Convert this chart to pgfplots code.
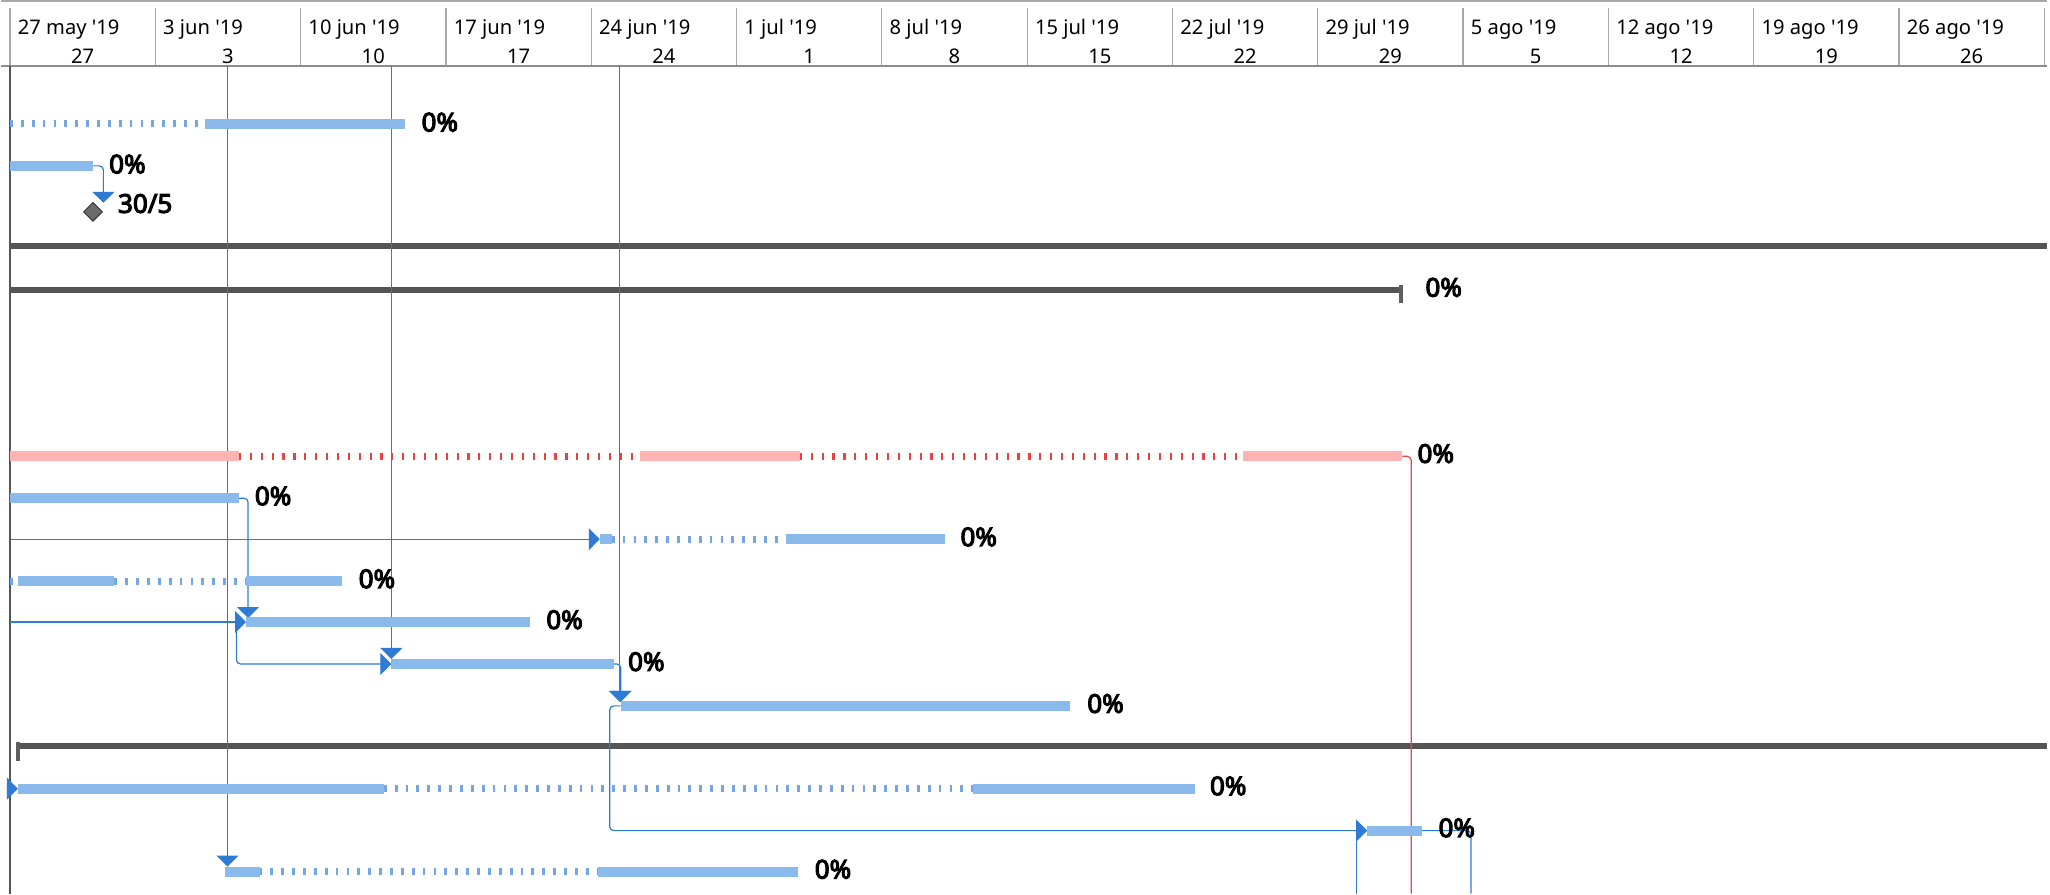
\documentclass[border=0pt]{standalone}
\usepackage{pgfplots}
\pgfplotsset{compat=1.18}
\usepackage{fontspec}
\setmainfont{Noto Sans}
\newfontfamily\pctfont{Noto Sans}[FakeBold=4.2]
\usetikzlibrary{arrows.meta}
\definecolor{barblue}{HTML}{8ABAEB}
\definecolor{dashblue}{HTML}{74A6E3}
\definecolor{linkblue}{HTML}{2E7BD6}
\definecolor{barred}{HTML}{FFB3B3}
\definecolor{dashred}{HTML}{EE3E3E}
\definecolor{linkred}{HTML}{E5484D}
\definecolor{summ}{HTML}{555555}
\definecolor{brk}{HTML}{5E5E5E}
\definecolor{msfill}{HTML}{6B6B6B}
\definecolor{msdraw}{HTML}{333333}
\definecolor{hgrid}{HTML}{A8A8A8}
\definecolor{hline}{HTML}{8C8C8C}
\tikzset{
  bar/.style={line width=5pt, color=barblue},
  split/.style={line width=3.5pt, color=dashblue, dash pattern=on 1.4pt off 4.05pt},
  rbar/.style={line width=5pt, color=barred},
  rsplit/.style={line width=3.5pt, color=dashred, dash pattern=on 1.1pt off 4.35pt},
  summary/.style={line width=3pt, color=summ},
  link/.style={line width=0.6pt, color=linkblue, rounded corners=2pt},
  alink/.style={link, -{Triangle[width=11pt,length=5.5pt]}},
  pct/.style={anchor=base west, inner sep=0pt, font=\pctfont\fontsize{13pt}{14pt}\selectfont},
  hdtop/.style={anchor=base west, inner sep=0pt, font=\fontsize{10.1pt}{12pt}\selectfont},
  hdbot/.style={anchor=base, inner sep=0pt, font=\fontsize{10.1pt}{12pt}\selectfont},
}
\begin{document}
\begin{tikzpicture}
\begin{axis}[
  width=1025pt, height=447.5pt, scale only axis,
  xmin=-0.433, xmax=98.13, ymin=0, ymax=895, y dir=reverse,
  axis line style={draw=none}, ticks=none, clip=false,
]
% ---------- header ----------
\addplot[hgrid, line width=0.8pt] coordinates {(-0.433,0.6) (98.13,0.6)};
\addplot[hline, line width=1pt] coordinates {(-0.433,65.5) (98.13,65.5)};
\pgfplotsinvokeforeach{7,14,21,28,35,42,49,56,63,70,77,84,91,98}{
  \addplot[hgrid, line width=0.6pt] coordinates {(#1,8) (#1,65)};
}
\addplot[hgrid, line width=0.8pt] coordinates {(0,8) (0,65)};
\node[hdtop] at (axis cs:0.36,34.5) {27 may \textquotesingle19};
\node[hdtop] at (axis cs:7.36,34.5) {3 jun \textquotesingle19};
\node[hdtop] at (axis cs:14.36,34.5) {10 jun \textquotesingle19};
\node[hdtop] at (axis cs:21.36,34.5) {17 jun \textquotesingle19};
\node[hdtop] at (axis cs:28.36,34.5) {24 jun \textquotesingle19};
\node[hdtop] at (axis cs:35.36,34.5) {1 jul \textquotesingle19};
\node[hdtop] at (axis cs:42.36,34.5) {8 jul \textquotesingle19};
\node[hdtop] at (axis cs:49.36,34.5) {15 jul \textquotesingle19};
\node[hdtop] at (axis cs:56.36,34.5) {22 jul \textquotesingle19};
\node[hdtop] at (axis cs:63.36,34.5) {29 jul \textquotesingle19};
\node[hdtop] at (axis cs:70.36,34.5) {5 ago \textquotesingle19};
\node[hdtop] at (axis cs:77.36,34.5) {12 ago \textquotesingle19};
\node[hdtop] at (axis cs:84.36,34.5) {19 ago \textquotesingle19};
\node[hdtop] at (axis cs:91.36,34.5) {26 ago \textquotesingle19};
\node[hdbot] at (axis cs:3.5,63) {27};
\node[hdbot] at (axis cs:10.5,63) {3};
\node[hdbot] at (axis cs:17.5,63) {10};
\node[hdbot] at (axis cs:24.5,63) {17};
\node[hdbot] at (axis cs:31.5,63) {24};
\node[hdbot] at (axis cs:38.5,63) {1};
\node[hdbot] at (axis cs:45.5,63) {8};
\node[hdbot] at (axis cs:52.5,63) {15};
\node[hdbot] at (axis cs:59.5,63) {22};
\node[hdbot] at (axis cs:66.5,63) {29};
\node[hdbot] at (axis cs:73.5,63) {5};
\node[hdbot] at (axis cs:80.5,63) {12};
\node[hdbot] at (axis cs:87.5,63) {19};
\node[hdbot] at (axis cs:94.5,63) {26};
% left border of body
\addplot[summ, line width=1pt] coordinates {(0,66) (0,895)};
% ---------- summaries ----------
\addplot[summary] coordinates {(0,246) (98.13,246)};
\addplot[summary] coordinates {(0,290) (67.02,290)};
\addplot[line width=2.2pt, color=brk] coordinates {(67.02,285) (67.02,303)};
\addplot[summary] coordinates {(0.38,747) (98.13,747)};
\addplot[line width=2.2pt, color=brk] coordinates {(0.38,743) (0.38,762)};
% ---------- links (drawn under bars) ----------
\addplot[alink] coordinates {(10.48,66) (10.48,868)};
\addplot[alink] coordinates {(18.37,66) (18.37,660)};
\addplot[alink] coordinates {(29.38,66) (29.38,703)};
\addplot[alink] coordinates {(4.02,166) (4.50,166) (4.50,203)};
\addplot[linkred, line width=0.6pt, rounded corners=2pt] coordinates {(67.07,457) (67.50,457) (67.50,895)};
\addplot[alink] coordinates {(11.03,499) (11.47,499) (11.47,619)};
\addplot[alink] coordinates {(0,540) (28.41,540)};
\addplot[alink] coordinates {(0,623) (11.37,623)};
\addplot[alink] coordinates {(10.91,623) (10.91,665) (18.37,665)};
\addplot[alink] coordinates {(29.09,665) (29.42,665) (29.42,703)};
\addplot[alink] coordinates {(29.42,707) (28.89,707) (28.89,832) (65.38,832)};
\addplot[alink] coordinates {(-0.15,790) (0.38,790)};
\addplot[link] coordinates {(68.03,832) (70.38,832) (70.38,895)};
\addplot[link] coordinates {(64.86,832) (64.86,895)};
% ---------- task bars ----------
% row 1
\addplot[split] coordinates {(0,124) (9.375,124)};
\addplot[bar] coordinates {(9.375,124) (19.04,124)};
% row 2
\addplot[bar] coordinates {(0,166) (4.02,166)};
% milestone
\addplot[only marks, mark=square*, mark size=3.3pt,
  mark options={rotate=45, fill=msfill, draw=msdraw, line width=0.5pt}]
  coordinates {(4.0,212)};
% row 5 (critical)
\addplot[rbar] coordinates {(0,457) (11.03,457)};
\addplot[rsplit] coordinates {(11.03,457) (30.36,457)};
\addplot[rbar] coordinates {(30.36,457) (38.05,457)};
\addplot[rsplit] coordinates {(38.05,457) (59.38,457)};
\addplot[rbar] coordinates {(59.38,457) (67.07,457)};
% row 6
\addplot[bar] coordinates {(0,499) (11.03,499)};
% row 7
\addplot[bar] coordinates {(28.41,540) (28.99,540)};
\addplot[split] coordinates {(28.99,540) (37.36,540)};
\addplot[bar] coordinates {(37.36,540) (45.05,540)};
% row 8
\addplot[split] coordinates {(0,582) (0.41,582)};
\addplot[bar] coordinates {(0.41,582) (5.03,582)};
\addplot[split] coordinates {(5.03,582) (11.37,582)};
\addplot[bar] coordinates {(11.37,582) (16.01,582)};
% row 9
\addplot[bar] coordinates {(11.37,623) (25.05,623)};
% row 10
\addplot[bar] coordinates {(18.37,665) (29.09,665)};
% row 11
\addplot[bar] coordinates {(29.42,707) (51.06,707)};
% row 13
\addplot[bar] coordinates {(0.38,790) (18.01,790)};
\addplot[split] coordinates {(18.01,790) (46.38,790)};
\addplot[bar] coordinates {(46.38,790) (57.07,790)};
% row 14
\addplot[bar] coordinates {(65.38,832) (68.03,832)};
% row 15
\addplot[bar] coordinates {(10.38,873) (12.02,873)};
\addplot[split] coordinates {(12.02,873) (28.32,873)};
\addplot[bar] coordinates {(28.32,873) (37.98,873)};
% ---------- labels ----------
\node[pct] at (axis cs:19.81,131.5) {0\%};
\node[pct] at (axis cs:4.76,173.5) {0\%};
\node[pct] at (axis cs:5.19,213) {30/5};
\node[pct] at (axis cs:68.17,297) {0\%};
\node[pct] at (axis cs:67.79,463.5) {0\%};
\node[pct] at (axis cs:11.78,506) {0\%};
\node[pct] at (axis cs:45.77,547) {0\%};
\node[pct] at (axis cs:16.78,589) {0\%};
\node[pct] at (axis cs:25.82,630) {0\%};
\node[pct] at (axis cs:29.76,672) {0\%};
\node[pct] at (axis cs:51.88,714) {0\%};
\node[pct] at (axis cs:57.79,796.5) {0\%};
\node[pct] at (axis cs:68.80,838.5) {0\%};
\node[pct] at (axis cs:38.75,880) {0\%};
\end{axis}
\end{tikzpicture}
\end{document}
